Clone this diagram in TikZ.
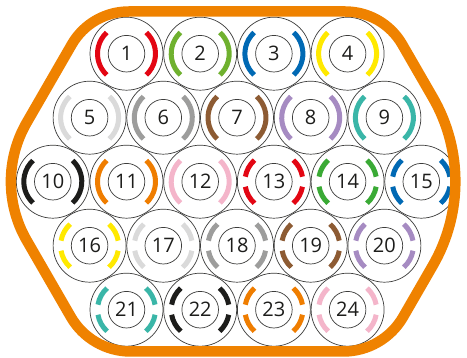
\documentclass[tikz,border=0pt]{standalone}
\usepackage{fontspec}
\setmainfont{Open Sans}
\usetikzlibrary{calc}
\definecolor{cline}{HTML}{3C3C3B}
\definecolor{txt}{HTML}{1D1D1B}
\definecolor{hexorange}{HTML}{EF8200}
\definecolor{cred}{HTML}{E30613}
\definecolor{clime}{HTML}{6FB12F}
\definecolor{cblue}{HTML}{0069B4}
\definecolor{cyellow}{HTML}{FFE900}
\definecolor{cwhite}{HTML}{DADADA}
\definecolor{cgrey}{HTML}{9D9D9C}
\definecolor{cbrown}{HTML}{8D5B33}
\definecolor{cviolet}{HTML}{A68BC2}
\definecolor{cturq}{HTML}{3AB6A8}
\definecolor{cblack}{HTML}{1D1D1B}
\definecolor{corange}{HTML}{EF7D00}
\definecolor{cpink}{HTML}{F4B5CA}
\definecolor{cgreen}{HTML}{3AAA35}
\newcommand\hexcorner[5]{%
  \path ($(#2)!#5!(#3)$) coordinate (#1a)
        ($(#2)!#5!(#4)$) coordinate (#1b);
  \path ($(#1a)!0.6188!(#2)$) coordinate (#1p)
        ($(#1b)!0.6188!(#2)$) coordinate (#1q);}
\begin{document}
\begin{tikzpicture}[x=1pt,y=-1pt,
  wire/.style={circle, draw=cline, line width=0.7pt, fill=white, minimum size=73pt, inner sep=0pt},
  core/.style={circle, draw=cline, line width=0.7pt, minimum size=36.6pt, inner sep=0pt,
               font=\fontsize{20}{20}\selectfont, text=txt},
  stripe/.style={line width=5pt},
  hexline/.style={draw=hexorange, line width=10.5pt, line join=round}]
\useasboundingbox (0,0) rectangle (467,358);
\foreach \n/\px/\py/\c in {
  1/126.5/53.7/cred, 2/200.2/53.7/clime, 3/273.9/53.7/cblue, 4/347.6/53.7/cyellow,
  5/89.6/117.7/cwhite, 6/163.3/117.7/cgrey, 7/237/117.7/cbrown, 8/310.7/117.7/cviolet, 9/384.4/117.7/cturq,
  10/52.8/181.7/cblack, 11/126.5/181.7/corange, 12/200.2/181.7/cpink, 13/273.9/181.7/cred, 14/347.6/181.7/cgreen, 15/421.3/181.7/cblue,
  16/89.6/245.7/cyellow, 17/163.3/245.7/cwhite, 18/237/245.7/cgrey, 19/310.7/245.7/cbrown, 20/384.4/245.7/cviolet,
  21/126.5/309.7/cturq, 22/200.2/309.7/cblack, 23/273.9/309.7/corange, 24/347.6/309.7/cpink}{
  \node[wire] (w\n) at (\px,\py) {};
  \node[core] (c\n) at (\px,\py) {\n};
  \ifnum\n<13
    \draw[stripe,draw=\c] (w\n.center) ++(-47:29) arc[start angle=-47,end angle=47,radius=29];
    \draw[stripe,draw=\c] (w\n.center) ++(133:29) arc[start angle=133,end angle=227,radius=29];
  \else
    \draw[stripe,draw=\c] (w\n.center) ++(-48:29) arc[start angle=-48,end angle=-10,radius=29];
    \draw[stripe,draw=\c] (w\n.center) ++(10:29) arc[start angle=10,end angle=48,radius=29];
    \draw[stripe,draw=\c] (w\n.center) ++(132:29) arc[start angle=132,end angle=170,radius=29];
    \draw[stripe,draw=\c] (w\n.center) ++(190:29) arc[start angle=190,end angle=228,radius=29];
  \fi
}
\coordinate (T1) at (90.8,11.5);
\coordinate (T2) at (383.2,11.5);
\coordinate (RR) at (481.3,181.5);
\coordinate (B2) at (383.2,351.5);
\coordinate (B1) at (90.8,351.5);
\coordinate (LL) at (-7.3,181.5);
\hexcorner{k1}{T1}{LL}{T2}{38pt}
\hexcorner{k2}{T2}{T1}{RR}{38pt}
\hexcorner{k3}{RR}{T2}{B2}{97pt}
\hexcorner{k4}{B2}{RR}{B1}{40pt}
\hexcorner{k5}{B1}{B2}{LL}{40pt}
\hexcorner{k6}{LL}{B1}{T1}{68pt}
\draw[hexline] (k1b) -- (k2a) .. controls (k2p) and (k2q) .. (k2b)
  -- (k3a) .. controls (k3p) and (k3q) .. (k3b)
  -- (k4a) .. controls (k4p) and (k4q) .. (k4b)
  -- (k5a) .. controls (k5p) and (k5q) .. (k5b)
  -- (k6a) .. controls (k6p) and (k6q) .. (k6b)
  -- (k1a) .. controls (k1p) and (k1q) .. (k1b) -- cycle;
\end{tikzpicture}
\end{document}
